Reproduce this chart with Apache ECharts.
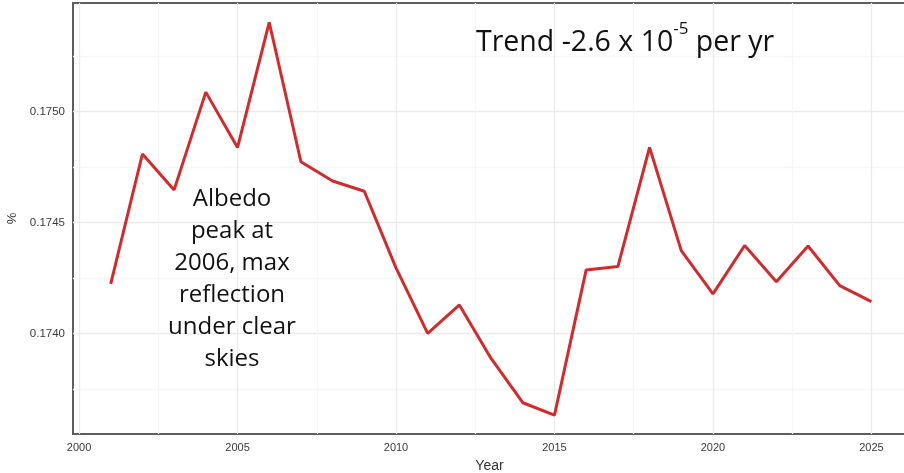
<!DOCTYPE html>
<html>
<head>
<meta charset="utf-8">
<script src="https://cdn.jsdelivr.net/npm/echarts@6/dist/echarts.min.js"></script>
<style>
  html, body { margin: 0; padding: 0; background: #fff; }
  #chart { width: 904px; height: 473px; }
</style>
</head>
<body>
<div id="chart"></div>
<script>
// albedo per year
var years = [2001, 2002, 2003, 2004, 2005, 2006, 2007, 2008, 2009, 2010, 2011, 2012, 2013,
  2014, 2015, 2016, 2017, 2018, 2019, 2020, 2021, 2022, 2023, 2024, 2025]
var albedo = [0.174223, 0.174809, 0.174647, 0.175088, 0.174838, 0.175403, 0.174774, 0.174687,
  0.174641, 0.174295, 0.174000, 0.174128, 0.173887, 0.173687, 0.173631, 0.174286, 0.174301,
  0.174839, 0.174373, 0.174178, 0.174396, 0.174233, 0.174394, 0.174215, 0.174143]

var xLabels = [2000, 2005, 2010, 2015, 2020, 2025]
var xGrid = [2000, 2002.5, 2005, 2007.5, 2010, 2012.5, 2015, 2017.5, 2020, 2022.5, 2025]
var yLabels = [0.1740, 0.1745, 0.1750]
var yGrid = [0.17375, 0.1740, 0.17425, 0.1745, 0.17475, 0.1750, 0.17525]

var chart = echarts.init(document.getElementById('chart'))

var option = {
  animation: false,
  grid: {
    left: 73,
    right: -2,
    top: 3,
    bottom: 39,
    outerBoundsMode: 'none',
    containLabel: false,
    show: true,
    borderColor: '#5e5e5e',
    borderWidth: 2,
    backgroundColor: 'transparent'
  },
  xAxis: {
    type: 'value',
    min: 1999.81,
    max: 2026.09,
    name: 'Year',
    nameLocation: 'middle',
    nameGap: 25,
    nameTextStyle: { fontFamily: 'Liberation Sans', fontSize: 14, color: '#333' },
    axisLine: { show: false },
    axisTick: { show: false, customValues: xGrid },
    axisLabel: {
      customValues: xLabels,
      formatter: function (v) { return String(v) },
      fontFamily: 'Liberation Sans',
      fontSize: 11,
      color: '#3a3a3a',
      margin: 8
    },
    splitLine: { show: true, lineStyle: { color: ['#ebebeb', '#f6f6f6'], width: 1.3 } }
  },
  yAxis: {
    type: 'value',
    min: 0.173546,
    max: 0.17549,
    name: '%',
    nameLocation: 'middle',
    nameGap: 48,
    nameTextStyle: { fontFamily: 'Liberation Sans', fontSize: 13, color: '#333' },
    axisLine: { show: false },
    axisTick: { show: false, customValues: yGrid },
    axisLabel: {
      customValues: yLabels,
      formatter: function (v) { return v.toFixed(4) },
      fontFamily: 'Liberation Sans',
      fontSize: 11.5,
      color: '#3a3a3a',
      margin: 8
    },
    splitLine: { show: true, lineStyle: { color: ['#f6f6f6', '#ebebeb'], width: 1.3 } }
  },
  graphic: [
    {
      type: 'text',
      left: 476,
      top: 21,
      z: 100,
      style: {
        text: '{a|Trend -2.6 x 10}{s|-5}{a| per yr}',
        rich: {
          a: { fontFamily: 'Open Sans', fontSize: 28.5, fill: '#111', verticalAlign: 'bottom', lineHeight: 36 },
          s: { fontFamily: 'Open Sans', fontSize: 17, fill: '#111', verticalAlign: 'top', lineHeight: 36 }
        }
      }
    },
    {
      type: 'text',
      x: 232,
      y: 183,
      z: 100,
      style: {
        text: 'Albedo\npeak at\n2006, max\nreflection\nunder clear\nskies',
        fontFamily: 'Open Sans',
        fontSize: 24,
        lineHeight: 32,
        fill: '#111',
        align: 'center'
      }
    }
  ],
  series: [
    {
      type: 'line',
      data: years.map(function (y, i) { return [y, albedo[i]] }),
      showSymbol: false,
      lineStyle: { color: '#d42a2c', width: 3 },
      z: 3
    }
  ]
}

chart.setOption(option)
</script>
</body>
</html>
